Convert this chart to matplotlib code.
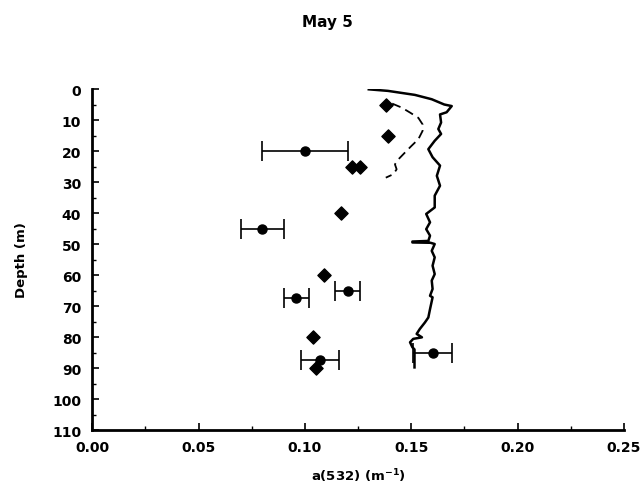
import matplotlib.pyplot as plt
from matplotlib.ticker import MultipleLocator, FormatStrFormatter

plt.rcParams['font.family'] = ['DejaVu Sans']
plt.rcParams['font.weight'] = 'bold'
plt.rcParams['mathtext.fontset'] = 'dejavusans'
plt.rcParams['mathtext.default'] = 'bf'

# discrete samples (diamonds)
diamond_a = [0.138, 0.139, 0.122, 0.126, 0.117, 0.109, 0.104, 0.105]
diamond_depth = [5, 15, 25, 25, 40, 60, 80, 90]

# means with error bars (circles)
circle_a = [0.100, 0.080, 0.120, 0.096, 0.107, 0.160]
circle_depth = [20, 45, 65, 67.5, 87.5, 85]
circle_err = [0.020, 0.010, 0.006, 0.006, 0.009, 0.009]

# in-situ profile (solid)
profile_a = [0.130, 0.139, 0.1517, 0.1596, 0.1655, 0.169, 0.1666, 0.1635, 0.164, 0.1627,
             0.164, 0.161, 0.158, 0.160, 0.1635, 0.162, 0.1635, 0.161, 0.161, 0.157,
             0.1588, 0.157, 0.1588, 0.158, 0.1505, 0.1505, 0.159, 0.161, 0.1596, 0.161,
             0.160, 0.161, 0.1596, 0.160, 0.1588, 0.160, 0.1588, 0.158, 0.1564, 0.154,
             0.1525, 0.155, 0.1509, 0.1494, 0.1505, 0.1515, 0.1515]
profile_depth = [0.1, 0.6, 1.9, 3.3, 5.0, 5.5, 7.5, 8.2, 10.8, 12.9,
                 14.5, 16.7, 19.4, 22.0, 24.7, 28.0, 31.2, 34.4, 38.2, 40.3,
                 43.0, 45.2, 47.3, 49.0, 49.2, 49.5, 49.6, 50.0, 52.2, 54.3,
                 57.0, 59.7, 61.8, 64.5, 66.7, 67.2, 71.0, 73.7, 75.3, 77.4,
                 79.0, 80.1, 80.6, 81.7, 83.3, 84.0, 89.8]

# second profile (dashed)
dashed_a = [0.141, 0.1455, 0.1494, 0.1533, 0.1553, 0.1553, 0.1533, 0.150, 0.147,
            0.1439, 0.1423, 0.1431, 0.1415, 0.138]
dashed_depth = [4.7, 6.0, 7.6, 9.3, 11.4, 13.5, 16.2, 18.4, 20.5,
                22.7, 24.3, 25.9, 27.5, 28.6]

fig = plt.figure(figsize=(6.4, 4.85), dpi=100)
ax = fig.add_axes([0.1442, 0.1113, 0.8308, 0.7031])

ax.plot(profile_a, profile_depth, color='black', linewidth=1.8)
ax.plot(dashed_a, dashed_depth, color='black', linewidth=1.3, linestyle=(0, (5, 3)))
ax.scatter(diamond_a, diamond_depth, marker='D', s=45, color='black', zorder=3)
ax.errorbar(circle_a, circle_depth, xerr=circle_err, fmt='o', color='black',
            markersize=6.5, elinewidth=1.2, capsize=7.5, capthick=1.2, zorder=4)

ax.set_xlim(0, 0.25)
ax.set_ylim(110, 0)
ax.xaxis.set_major_locator(MultipleLocator(0.05))
ax.xaxis.set_minor_locator(MultipleLocator(0.025))
ax.xaxis.set_major_formatter(FormatStrFormatter('%.2f'))
ax.yaxis.set_major_locator(MultipleLocator(10))
ax.yaxis.set_minor_locator(MultipleLocator(5))

ax.spines['top'].set_visible(False)
ax.spines['right'].set_visible(False)
ax.spines['left'].set_linewidth(2)
ax.spines['bottom'].set_linewidth(2)
ax.tick_params(which='major', direction='in', length=5, width=1.2, labelsize=10)
ax.tick_params(which='minor', direction='in', length=3, width=1)
ax.tick_params(axis='x', which='major', pad=7)
ax.tick_params(axis='y', which='major', pad=8)

fig.text(327 / 640, 1 - 23 / 485, 'May 5', ha='center', va='center',
         fontsize=11, fontweight='bold')
fig.text(358 / 640, 1 - 476 / 485, r'a(532) (m$^{-1}$)', ha='center', va='center',
         fontsize=9.5, fontweight='bold')
fig.text(22 / 640, 1 - 260 / 485, 'Depth (m)', ha='center', va='center',
         rotation=90, fontsize=9.5, fontweight='bold')

fig.savefig('out.png', dpi=100)
